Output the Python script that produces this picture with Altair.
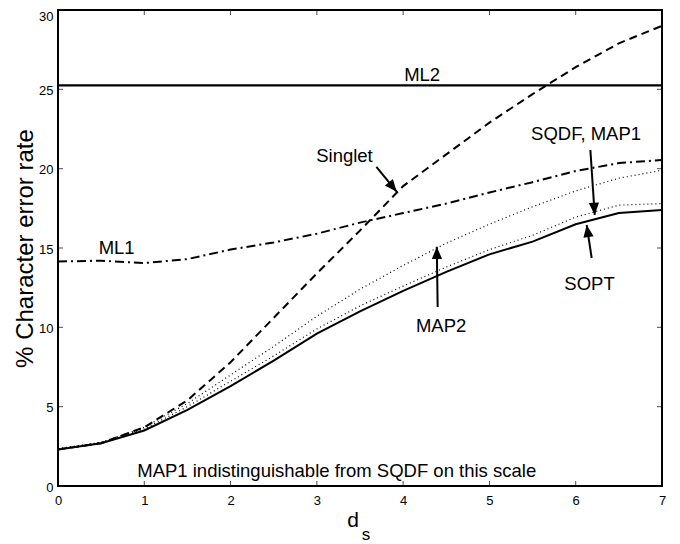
import math
import altair as alt
import pandas as pd

# ---------------- data ----------------
ds = [0, 0.5, 1, 1.5, 2, 2.5, 3, 3.5, 4, 4.5, 5, 5.5, 6, 6.5, 7]
sopt = [2.3, 2.7, 3.5, 4.8, 6.3, 7.9, 9.6, 11.0, 12.3, 13.5, 14.6, 15.4, 16.5, 17.2, 17.4]
sqdf = [2.35, 2.75, 3.6, 5.0, 6.6, 8.2, 9.9, 11.35, 12.6, 13.8, 14.9, 15.8, 16.95, 17.7, 17.8]
map2 = [2.35, 2.75, 3.7, 5.2, 7.0, 8.8, 10.7, 12.4, 13.9, 15.3, 16.5, 17.6, 18.6, 19.4, 19.9]
singlet = [2.3, 2.7, 3.7, 5.4, 7.8, 10.6, 13.4, 16.1, 18.9, 20.9, 22.9, 24.7, 26.4, 27.9, 29.0]
ml1 = [14.15, 14.2, 14.05, 14.3, 14.9, 15.35, 15.9, 16.6, 17.2, 17.8, 18.5, 19.15, 19.85, 20.35, 20.55]
ml2_x = [0, 7]
ml2_y = [25.25, 25.25]

labels = ["ML2", "ML1", "Singlet", "SQDF, MAP1", "SOPT", "MAP2",
          "MAP1 indistinguishable from SQDF on this scale"]
label_x = [4.22, 0.68, 3.32, 6.12, 6.16, 4.44, 3.23]
label_y = [25.9, 15.0, 20.8, 22.2, 12.75, 10.1, 0.95]

arrow_x = [3.69, 6.17, 6.185, 4.40]
arrow_y = [20.12, 21.18, 14.37, 11.28]
arrow_tx = [3.925, 6.22, 6.127, 4.39]
arrow_ty = [18.55, 17.08, 16.45, 15.08]

x_ticks = [0, 1, 2, 3, 4, 5, 6, 7]
y_ticks = [0, 5, 10, 15, 20, 25, 30]

xtitle_text = ["d", "s"]
xtitle_x = [3.42, 3.57]
xtitle_y = [-2.58, -3.40]

# ---------------- layout ----------------
W, H = 604, 476
XMAX, YMAX = 7, 30
FONT = "Liberation Sans"

xs = alt.Scale(domain=[0, XMAX], nice=False, zero=False)
ys = alt.Scale(domain=[0, YMAX], nice=False, zero=False)

x_axis = alt.Axis(values=x_ticks, ticks=False, domain=False, grid=False,
                  labelFont=FONT, labelFontSize=13, labelColor="black",
                  labelPadding=8, title=None, labelFlush=False)
y_axis = alt.Axis(values=y_ticks, ticks=False, domain=False, grid=False,
                  labelFont=FONT, labelFontSize=13, labelColor="black",
                  labelPadding=5, labelFlush=False,
                  labelOffset=alt.condition("datum.value == 30",
                                            alt.value(6), alt.value(1)),
                  title="% Character error rate",
                  titleFont=FONT, titleFontSize=24, titleFontWeight="normal",
                  titleColor="black", titleAngle=270, titleX=-33, titleY=238,
                  titleAlign="center", titleBaseline="middle")


def X(f):
    return alt.X(f, scale=xs, axis=x_axis)


def Y(f):
    return alt.Y(f, scale=ys, axis=y_axis)


curves = pd.DataFrame({"ds": ds, "sopt": sopt, "sqdf": sqdf, "map2": map2,
                       "singlet": singlet, "ml1": ml1})
ml2_df = pd.DataFrame({"ds": ml2_x, "v": ml2_y})
base = alt.Chart(curves)


def curve(col, **kw):
    return base.mark_line(color="black", **kw).encode(x=X("ds:Q"), y=Y(f"{col}:Q"))


sopt_l = curve("sopt", strokeWidth=2)
sqdf_l = curve("sqdf", strokeWidth=1.2, strokeDash=[1, 3])
map2_l = curve("map2", strokeWidth=1.2, strokeDash=[1, 3])
singlet_l = curve("singlet", strokeWidth=2, strokeDash=[8, 5])
ml1_l = curve("ml1", strokeWidth=2, strokeDash=[9, 4, 2, 4])
ml2_l = alt.Chart(ml2_df).mark_line(color="black", strokeWidth=2.2).encode(
    x=X("ds:Q"), y=Y("v:Q"))

# annotations
lab_df = pd.DataFrame({"t": labels, "x": label_x, "y": label_y})
texts = alt.Chart(lab_df).mark_text(font=FONT, fontSize=18.5, color="black",
                                    align="center", baseline="middle").encode(
    x=X("x:Q"), y=Y("y:Q"), text="t:N")

sx, sy = W / XMAX, H / YMAX
angles = []
for x0, y0, x1, y1 in zip(arrow_x, arrow_y, arrow_tx, arrow_ty):
    dx = (x1 - x0) * sx
    dy = -(y1 - y0) * sy
    angles.append(math.degrees(math.atan2(dx, -dy)) % 360)
arr_df = pd.DataFrame({"x": arrow_x, "y": arrow_y, "tx": arrow_tx,
                       "ty": arrow_ty, "ang": angles})
shafts = alt.Chart(arr_df).mark_rule(color="black", strokeWidth=2).encode(
    x=X("x:Q"), y=Y("y:Q"), x2="tx:Q", y2="ty:Q")
heads = alt.Chart(arr_df).mark_point(
    shape="M0,0L-0.42,1L0.42,1Z", filled=True, color="black", opacity=1,
    size=600, strokeWidth=0).encode(
    x=X("tx:Q"), y=Y("ty:Q"), angle=alt.Angle("ang:Q", scale=None))

# inward ticks on all four sides
xt_df = pd.DataFrame({"v": x_ticks})
yt_df = pd.DataFrame({"v": y_ticks})
tick_kw = dict(size=10, thickness=1, color="black", clip=True)
xt_bot = alt.Chart(xt_df).mark_tick(orient="vertical", **tick_kw).encode(
    x=X("v:Q"), y=alt.datum(0, scale=ys, axis=y_axis))
xt_top = alt.Chart(xt_df).mark_tick(orient="vertical", **tick_kw).encode(
    x=X("v:Q"), y=alt.datum(YMAX, scale=ys, axis=y_axis))
yt_left = alt.Chart(yt_df).mark_tick(orient="horizontal", **tick_kw).encode(
    y=Y("v:Q"), x=alt.datum(0, scale=xs, axis=x_axis))
yt_right = alt.Chart(yt_df).mark_tick(orient="horizontal", **tick_kw).encode(
    y=Y("v:Q"), x=alt.datum(XMAX, scale=xs, axis=x_axis))

# x title "d" with subscript "s"
xt_title_df = pd.DataFrame({"t": xtitle_text, "x": xtitle_x, "y": xtitle_y,
                            "fs": [21, 17]})
xtitle = alt.Chart(xt_title_df).mark_text(font=FONT, color="black",
                                          align="center",
                                          baseline="alphabetic").encode(
    x=X("x:Q"), y=Y("y:Q"), text="t:N",
    size=alt.Size("fs:Q", scale=None, legend=None))

chart = alt.layer(
    sopt_l, sqdf_l, map2_l, singlet_l, ml1_l, ml2_l,
    xt_bot, xt_top, yt_left, yt_right,
    shafts, heads, texts, xtitle,
).properties(
    width=W, height=H,
    padding={"left": 50, "top": 2, "right": 10, "bottom": 58},
    autosize=alt.AutoSizeParams(type="none"),
    background="white",
).configure_view(
    stroke="black", strokeWidth=2
)

chart.save("out.html", embed_options={"renderer": "svg", "actions": False})
